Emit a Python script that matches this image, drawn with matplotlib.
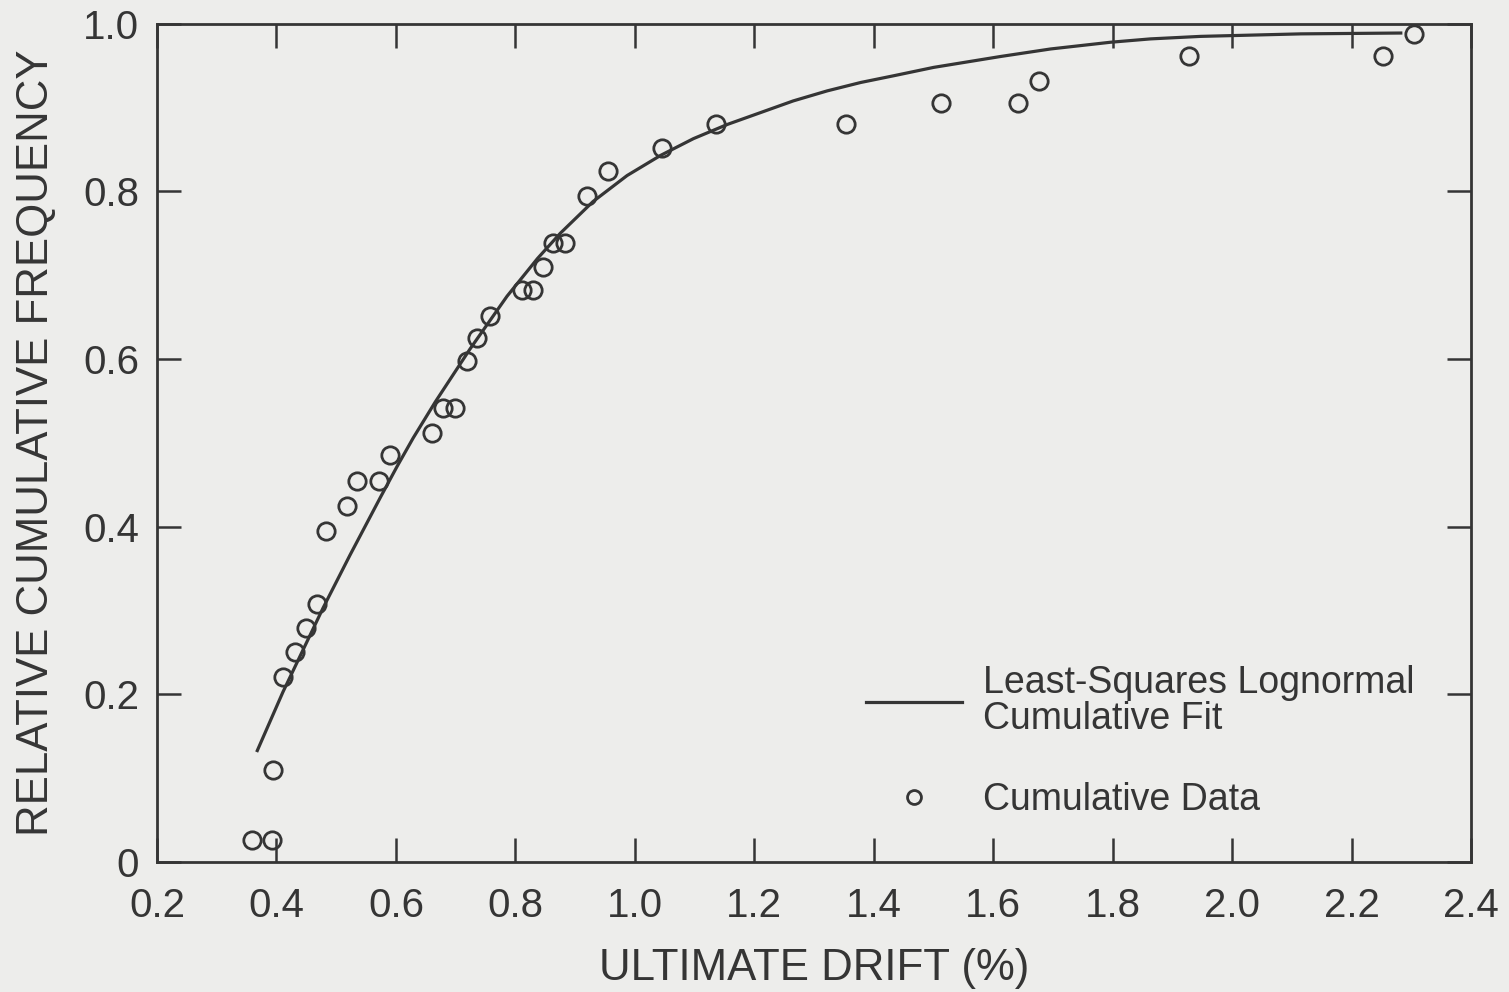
import matplotlib
matplotlib.use("Agg")
import matplotlib.pyplot as plt

# cumulative data points (drift in %, relative cumulative frequency)
drift = [0.359, 0.392, 0.394, 0.411, 0.431, 0.450, 0.468, 0.483, 0.518, 0.535,
         0.572, 0.590, 0.661, 0.679, 0.699, 0.719, 0.736, 0.758, 0.811, 0.830,
         0.847, 0.863, 0.883, 0.920, 0.955, 1.046, 1.135, 1.354, 1.513, 1.641,
         1.677, 1.927, 2.252, 2.304]
freq = [0.026, 0.026, 0.110, 0.221, 0.250, 0.279, 0.308, 0.395, 0.425, 0.454,
        0.454, 0.486, 0.512, 0.542, 0.542, 0.598, 0.625, 0.652, 0.682, 0.682,
        0.710, 0.738, 0.738, 0.795, 0.824, 0.852, 0.880, 0.880, 0.905, 0.905,
        0.932, 0.961, 0.961, 0.988]

# least-squares lognormal fit curve
fit_drift = [0.368, 0.411, 0.478, 0.523, 0.574, 0.602, 0.629, 0.666, 0.724,
             0.786, 0.837, 0.875, 0.930, 0.987, 1.043, 1.098, 1.155, 1.210,
             1.265, 1.322, 1.378, 1.433, 1.500, 1.612, 1.696, 1.796, 1.863,
             1.947, 2.115, 2.282]
fit_freq = [0.133, 0.203, 0.303, 0.366, 0.435, 0.472, 0.506, 0.549, 0.612,
            0.675, 0.720, 0.750, 0.788, 0.819, 0.843, 0.863, 0.880, 0.894,
            0.908, 0.920, 0.930, 0.938, 0.948, 0.961, 0.970, 0.978, 0.982,
            0.985, 0.988, 0.989]

x_ticks = [0.2, 0.4, 0.6, 0.8, 1.0, 1.2, 1.4, 1.6, 1.8, 2.0, 2.2, 2.4]
y_ticks = [0, 0.2, 0.4, 0.6, 0.8, 1.0]
y_tick_labels = ['0', '0.2', '0.4', '0.6', '0.8', '1.0']

ink = '#353535'
paper = '#ededeb'

plt.rcParams['font.family'] = ['Liberation Sans', 'DejaVu Sans']

fig = plt.figure(figsize=(15.09, 9.92), dpi=100, facecolor=paper)
ax = fig.add_axes([0.104, 0.131, 0.871, 0.845], facecolor=paper)

ax.plot(fit_drift, fit_freq, color=ink, linewidth=2.3,
        label='Least-Squares Lognormal\nCumulative Fit')
ax.plot(drift, freq, linestyle='none', marker='o', markersize=12.5,
        markerfacecolor='none', markeredgecolor=ink, markeredgewidth=2.0,
        label='Cumulative Data')

ax.set_xlim(0.2, 2.4)
ax.set_ylim(0, 1.0)
ax.set_xticks(x_ticks)
ax.set_xticklabels([f'{v:.1f}' for v in x_ticks])
ax.set_yticks(y_ticks)
ax.set_yticklabels(y_tick_labels)

for s in ax.spines.values():
    s.set_linewidth(2.0)
    s.set_color(ink)

ax.tick_params(axis='both', direction='in', length=17, width=1.8, color=ink,
               top=True, right=True, labelsize=29, labelcolor=ink)
ax.tick_params(axis='x', pad=18)
ax.tick_params(axis='y', pad=13)

ax.set_xlabel('ULTIMATE DRIFT (%)', fontsize=31.5, color=ink)
ax.set_ylabel('RELATIVE CUMULATIVE FREQUENCY', fontsize=31.5, color=ink)
ax.xaxis.label.set_va('center')
ax.yaxis.label.set_va('center')
ax.xaxis.set_label_coords(0.5, -0.1265)
ax.yaxis.set_label_coords(-0.092, 0.5)

leg = ax.legend(loc='upper left', bbox_to_anchor=(0.5396, 0.2355),
                frameon=False, fontsize=27, handlelength=2.56,
                handletextpad=0.56, borderpad=0, borderaxespad=0,
                labelspacing=1.2, markerscale=0.8)
for t in leg.get_texts():
    t.set_color(ink)
    t.set_linespacing(1.0)

fig.savefig('out.png', dpi=100, facecolor=paper)
